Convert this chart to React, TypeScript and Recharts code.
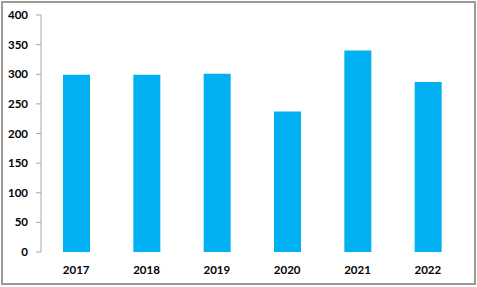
import React from "react";
import { BarChart, Bar, XAxis, YAxis } from "recharts";

const years = ["2017", "2018", "2019", "2020", "2021", "2022"];
const counts = [299, 299, 301, 237, 340, 287];
const yTicks = [0, 50, 100, 150, 200, 250, 300, 350, 400];
const boundaryTicks = [0, 1, 2, 3, 4, 5, 6];

const data = years.map((year, i) => ({ year, count: counts[i] }));

const axisColor = "#A6A6A6";
const labelStyle = {
  fontFamily: "Lato, 'Open Sans', sans-serif",
  fontSize: 11.5,
  fontWeight: 700,
  fill: "#000",
};

const App: React.FC = () => {
  return (
    <div
      style={{
        position: "fixed",
        left: 0,
        top: 0,
        width: 477,
        height: 287,
        background: "#fff",
      }}
    >
      <div
        style={{
          position: "absolute",
          left: 1,
          top: 1,
          width: 471,
          height: 280,
          border: "2px solid #9a9a9a",
        }}
      />
      <BarChart
        width={477}
        height={287}
        data={data}
        margin={{ top: 15, right: 14, left: 0, bottom: 0 }}
        style={{ position: "absolute", left: 0, top: 0 }}
      >
        <XAxis
          xAxisId="edges"
          type="number"
          domain={[0, 6]}
          ticks={boundaryTicks}
          tick={false}
          height={0}
          stroke={axisColor}
          tickSize={5}
        />
        <XAxis
          xAxisId="cat"
          dataKey="year"
          axisLine={false}
          tickLine={false}
          tickSize={0}
          tickMargin={14}
          height={35}
          tick={labelStyle}
          interval={0}
        />
        <YAxis
          domain={[0, 400]}
          ticks={yTicks}
          width={41}
          stroke={axisColor}
          tickSize={5}
          tickMargin={8}
          tick={labelStyle}
          interval={0}
        />
        <Bar
          xAxisId="cat"
          dataKey="count"
          fill="#00B0F0"
          barSize={27}
          isAnimationActive={false}
        />
      </BarChart>
    </div>
  );
};

export default App;
